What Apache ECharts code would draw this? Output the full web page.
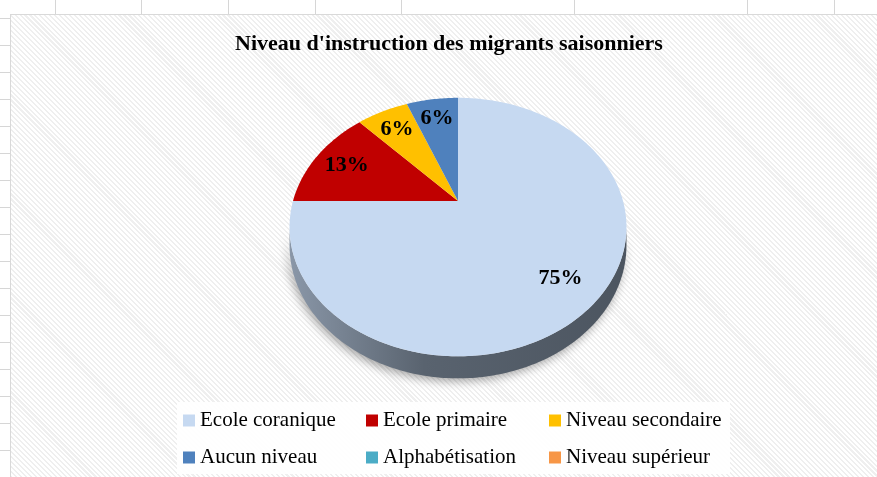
<!DOCTYPE html>
<html>
<head>
<meta charset="utf-8">
<script src="https://cdn.jsdelivr.net/npm/echarts@6/dist/echarts.min.js"></script>
<style>
  html, body { margin: 0; padding: 0; width: 877px; height: 477px; overflow: hidden; background: #fff; }
  #cells {
    position: absolute; left: 0; top: 0; width: 877px; height: 477px;
    background-image:
      repeating-linear-gradient(90deg, transparent 0, transparent 55px, #d6d6d6 55px, #d6d6d6 56px, transparent 56px, transparent 86.5px),
      repeating-linear-gradient(0deg, transparent 0, transparent 26px, #d6d6d6 26px, #d6d6d6 27px);
  }
  #frame {
    position: absolute; left: 10px; top: 14px; width: 880px; height: 470px;
    border-left: 1px solid #d9d9d9; border-top: 1px solid #d9d9d9;
    background-color: #fff;
    background-image: repeating-linear-gradient(45deg, #fff 0, #fff 2px, #efefef 2px, #efefef 3.5px);
  }
  #chart { position: absolute; left: 0; top: 0; width: 876px; height: 463px; }
</style>
</head>
<body>
<div id="cells"></div>
<div id="frame"><div id="chart"></div></div>
<script>
var categories = ['Ecole coranique', 'Ecole primaire', 'Niveau secondaire', 'Aucun niveau', 'Alphabétisation', 'Niveau supérieur'];
var values     = [75, 13, 6, 6, 0, 0];
var colores    = ['#C6D9F1', '#C00000', '#FFC000', '#4F81BD', '#4BACC6', '#F79646'];

// perspective of the tilted pie (in axis units)
var K     = 0.2016;   // front bigger than back
var DEPTH = 0.142;    // thickness of the disc

function total() {
    return values.reduce(function (a, b) { return a + b; }, 0);
}

// angle a clockwise from 12 o'clock, r = fraction of radius
function project(a, r, drop) {
    var X = r * Math.sin(a);
    var Y = r * Math.cos(a);
    var w = 1 + K * Y;
    return [X / w, (Y - (drop || 0)) / w];
}

function sliceRender(i) {
    return function (params, api) {
        var v = api.value(2);
        if (!(v > 0)) return;
        var before = values.slice(0, i).reduce(function (a, b) { return a + b; }, 0);
        var start = before / total() * Math.PI * 2;
        var end = start + v / total() * Math.PI * 2;
        var pts = [api.coord(project(0, 0))];
        var n = Math.max(4, Math.ceil((end - start) / 0.015));
        for (var j = 0; j <= n; j++) {
            pts.push(api.coord(project(start + (end - start) * j / n, 1)));
        }
        var mid = (start + end) / 2;
        var lp = api.coord(project(mid, 0.78));
        return {
            type: 'group',
            children: [
                { type: 'polygon', shape: { points: pts }, style: { fill: colores[i] } },
                {
                    type: 'text', x: lp[0], y: lp[1], z2: 10,
                    style: {
                        text: Math.round(v / total() * 100) + '%',
                        fill: '#000',
                        font: 'bold 22px "Liberation Serif", "Times New Roman", serif',
                        align: 'center', verticalAlign: 'middle'
                    }
                }
            ]
        };
    };
}

function sideRender(params, api) {
    var a1 = Math.acos(-K);
    var a2 = Math.PI * 2 - a1;
    var n = 160, pts = [], j;
    for (j = 0; j <= n; j++) pts.push(api.coord(project(a1 + (a2 - a1) * j / n, 1)));
    for (j = n; j >= 0; j--) pts.push(api.coord(project(a1 + (a2 - a1) * j / n, 1, DEPTH)));
    return {
        type: 'polygon',
        shape: { points: pts },
        style: {
            fill: new echarts.graphic.LinearGradient(0, 0, 1, 0, [
                { offset: 0, color: '#8a97a8' },
                { offset: 0.4, color: '#59636f' },
                { offset: 1, color: '#4c5560' }
            ]),
            shadowBlur: 10,
            shadowColor: 'rgba(0,0,0,0.35)',
            shadowOffsetX: -2,
            shadowOffsetY: 3
        }
    };
}

var series = [{
    name: 'side',
    type: 'custom',
    coordinateSystem: 'cartesian2d',
    clip: false,
    z: 1,
    data: [[0, 0, 0]],
    renderItem: sideRender,
    silent: true
}];
categories.forEach(function (c, i) {
    series.push({
        name: c,
        type: 'custom',
        coordinateSystem: 'cartesian2d',
        clip: false,
        z: 2,
        itemStyle: { color: colores[i] },
        data: [[0, 0, values[i]]],
        renderItem: sliceRender(i)
    });
});

var cha01 = echarts.init(document.getElementById('chart'));
var opt01 = {
    animation: false,
    title: {
        text: "Niveau d'instruction des migrants saisonniers",
        left: 'center',
        top: 18,
        padding: 0,
        textStyle: {
            fontFamily: '"Liberation Serif", "Times New Roman", serif',
            fontWeight: 'bold',
            fontSize: 22,
            color: '#000'
        }
    },
    grid: { left: 282, width: 330, top: 62, height: 372 },
    xAxis: { type: 'value', min: -1, max: 1, show: false },
    yAxis: { type: 'value', min: -2, max: 1, show: false },
    legend: {
        data: categories,
        left: 166,
        top: 387,
        width: 580,
        padding: [4, 6, 2, 6],
        backgroundColor: 'rgba(255,255,255,0.9)',
        icon: 'rect',
        itemWidth: 12,
        itemHeight: 12,
        itemGap: 8,
        itemTextGap: 4,
        textStyle: {
            fontFamily: '"Liberation Serif", "Times New Roman", serif',
            fontSize: 21,
            color: '#000',
            width: 158,
            lineHeight: 29
        }
    },
    series: series
};
cha01.setOption(opt01);
</script>
</body>
</html>
